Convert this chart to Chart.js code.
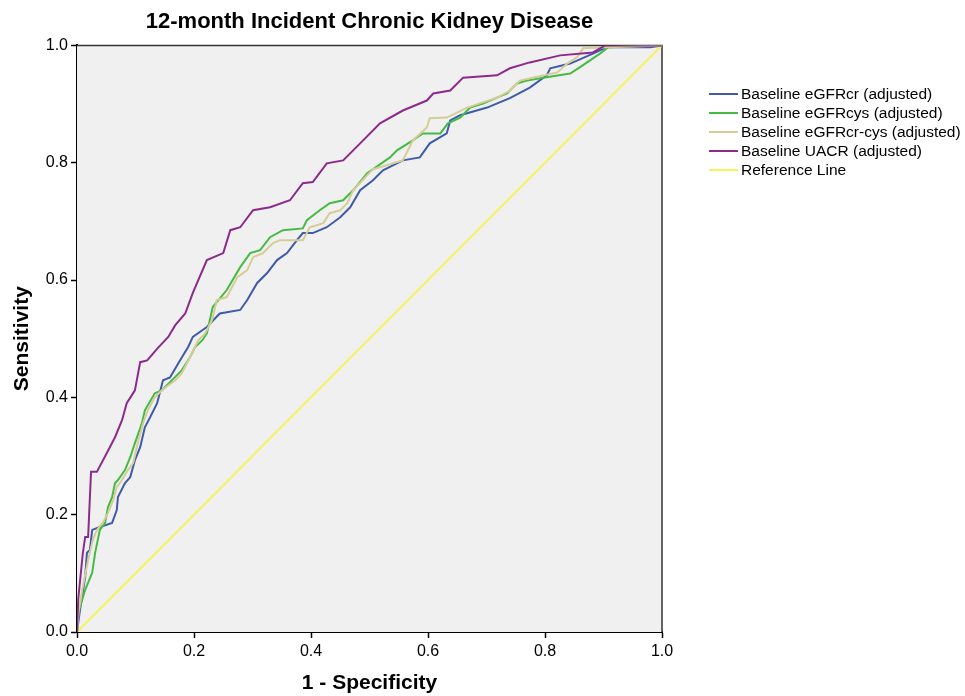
<!DOCTYPE html>
<html>
<head>
<meta charset="utf-8">
<script src="https://cdn.jsdelivr.net/npm/chart.js@4"></script>
<style>
  html, body { margin: 0; padding: 0; background: #fff; }
  #wrap { position: relative; width: 965px; height: 696px; }
  #legend {
    position: absolute; left: 709px; top: 84px;
    font: 15.5px "Liberation Sans", Arial, sans-serif; color: #000;
  }
  #legend div { height: 19px; line-height: 19px; white-space: nowrap; }
  #legend span.ln {
    display: inline-block; width: 29px; height: 2px; margin-right: 3px;
    vertical-align: middle; position: relative; top: -1px;
  }
</style>
</head>
<body>
<div id="wrap">
  <canvas id="chartCanvas"></canvas>
  <div id="legend"></div>
</div>
<script>
// --- data (x = 1 - specificity, y = sensitivity) ---
const seriesNames = [
  "Baseline eGFRcr (adjusted)",
  "Baseline eGFRcys (adjusted)",
  "Baseline eGFRcr-cys (adjusted)",
  "Baseline UACR (adjusted)",
  "Reference Line"
];
const seriesColors = ["#3f5ba9", "#44bb44", "#d6cc98", "#8c2b8c", "#f4f45c"];

const fprCr = [0,0.005,0.014,0.017,0.022,0.026,0.039,0.060,0.068,0.070,0.082,0.091,0.099,0.108,0.116,0.125,0.137,0.147,0.159,0.176,0.190,0.198,0.222,0.244,0.279,0.291,0.308,0.325,0.342,0.359,0.376,0.386,0.403,0.427,0.450,0.467,0.484,0.506,0.523,0.557,0.586,0.603,0.632,0.638,0.655,0.701,0.740,0.774,0.803,0.809,0.843,0.882,0.906,0.980,1];
const tprCr = [0,0.037,0.094,0.135,0.140,0.174,0.179,0.186,0.208,0.230,0.254,0.264,0.293,0.315,0.349,0.366,0.390,0.429,0.434,0.463,0.486,0.503,0.520,0.543,0.549,0.566,0.595,0.612,0.634,0.646,0.668,0.680,0.680,0.690,0.707,0.724,0.753,0.770,0.787,0.804,0.809,0.833,0.850,0.872,0.881,0.894,0.910,0.928,0.949,0.961,0.969,0.986,0.997,0.997,1];

const fprCys = [0,0.002,0.014,0.026,0.031,0.039,0.048,0.053,0.060,0.065,0.070,0.082,0.091,0.099,0.111,0.116,0.133,0.145,0.162,0.179,0.193,0.202,0.214,0.222,0.232,0.256,0.279,0.296,0.313,0.330,0.352,0.386,0.393,0.415,0.432,0.455,0.472,0.496,0.535,0.547,0.574,0.591,0.621,0.634,0.655,0.672,0.694,0.718,0.735,0.752,0.769,0.797,0.843,0.860,0.882,0.894,0.908,1];
const tprCys = [0,0.032,0.072,0.101,0.135,0.174,0.186,0.213,0.230,0.254,0.259,0.276,0.298,0.322,0.356,0.378,0.407,0.412,0.429,0.446,0.468,0.486,0.497,0.509,0.554,0.583,0.622,0.646,0.651,0.673,0.685,0.688,0.702,0.719,0.731,0.736,0.753,0.782,0.809,0.821,0.838,0.850,0.850,0.867,0.877,0.894,0.901,0.911,0.918,0.935,0.940,0.945,0.952,0.963,0.978,0.986,0.997,1];

const fprCrCys = [0,0.003,0.009,0.019,0.027,0.034,0.044,0.053,0.062,0.068,0.077,0.087,0.096,0.104,0.113,0.121,0.133,0.145,0.168,0.179,0.193,0.207,0.219,0.231,0.239,0.256,0.274,0.291,0.301,0.318,0.335,0.347,0.386,0.398,0.421,0.432,0.450,0.462,0.472,0.506,0.557,0.574,0.598,0.603,0.632,0.667,0.718,0.740,0.757,0.779,0.821,0.838,0.855,0.865,0.906,1];
const tprCrCys = [0,0.037,0.072,0.123,0.157,0.174,0.186,0.203,0.225,0.247,0.259,0.276,0.288,0.322,0.356,0.378,0.400,0.412,0.429,0.441,0.468,0.497,0.509,0.532,0.566,0.571,0.605,0.617,0.639,0.646,0.663,0.668,0.668,0.690,0.697,0.714,0.719,0.731,0.753,0.789,0.804,0.838,0.860,0.876,0.877,0.894,0.911,0.923,0.940,0.945,0.954,0.969,0.980,0.995,0.997,1];

const fprUacr = [0,0.002,0.010,0.014,0.019,0.024,0.034,0.051,0.065,0.077,0.085,0.099,0.108,0.120,0.138,0.156,0.168,0.185,0.198,0.222,0.250,0.262,0.279,0.301,0.330,0.364,0.386,0.403,0.427,0.455,0.484,0.518,0.557,0.598,0.609,0.638,0.660,0.718,0.740,0.774,0.826,0.882,0.903,1];
const tprUacr = [0,0.055,0.135,0.162,0.162,0.273,0.273,0.305,0.332,0.361,0.390,0.412,0.460,0.463,0.484,0.503,0.523,0.543,0.578,0.634,0.646,0.685,0.690,0.719,0.724,0.736,0.765,0.767,0.799,0.804,0.833,0.867,0.889,0.906,0.918,0.923,0.945,0.949,0.961,0.971,0.983,0.988,1,1];

const fprRef = [0, 1];
const tprRef = [0, 1];

const axisTicks = [0, 0.2, 0.4, 0.6, 0.8, 1.0];

// --- helpers ---
const toPoints = (xs, ys) => xs.map((x, i) => ({ x, y: ys[i] }));

const curves = [
  toPoints(fprCr, tprCr),
  toPoints(fprCys, tprCys),
  toPoints(fprCrCys, tprCrCys),
  toPoints(fprUacr, tprUacr),
  toPoints(fprRef, tprRef)
];

// HTML legend on the right
const legendEl = document.getElementById("legend");
seriesNames.forEach((name, i) => {
  const row = document.createElement("div");
  row.innerHTML = `<span class="ln" style="background:${seriesColors[i]}"></span>${name}`;
  legendEl.appendChild(row);
});

// grey plot background + thin top/right frame
const plotFrame = {
  id: "plotFrame",
  beforeDatasetsDraw(chart) {
    const { ctx, chartArea: a } = chart;
    ctx.save();
    ctx.fillStyle = "#f0f0f0";
    ctx.fillRect(a.left, a.top, a.right - a.left, a.bottom - a.top);
    ctx.strokeStyle = "#333";
    ctx.lineWidth = 1.5;
    ctx.beginPath();
    ctx.moveTo(a.left, a.top);
    ctx.lineTo(a.right, a.top);
    ctx.lineTo(a.right, a.bottom);
    ctx.stroke();
    ctx.restore();
  }
};

Chart.defaults.font.family = '"Liberation Sans", Arial, sans-serif';
Chart.defaults.color = "#000";

const canvas = document.getElementById("chartCanvas");

new Chart(canvas, {
  type: "line",
  data: {
    datasets: curves.map((pts, i) => ({
      label: seriesNames[i],
      data: pts,
      borderColor: seriesColors[i],
      backgroundColor: seriesColors[i],
      borderWidth: 2,
      pointRadius: 0,
      fill: false,
      tension: 0,
      order: i === 4 ? 10 : 4 - i
    }))
  },
  options: {
    responsive: true,
    maintainAspectRatio: false,
    animation: false,
    layout: { padding: { left: 0, right: 303, top: 0, bottom: 0 } },
    plugins: {
      legend: { display: false },
      tooltip: { enabled: false },
      title: {
        display: true,
        fullSize: false,
        text: "12-month Incident Chronic Kidney Disease",
        font: { size: 22, weight: "bold" },
        padding: { top: 9, bottom: 10 }
      }
    },
    scales: {
      x: {
        type: "linear",
        min: 0, max: 1,
        afterBuildTicks: s => { s.ticks = axisTicks.map(v => ({ value: v })); },
        afterFit: s => { s.height = 64; },
        ticks: { font: { size: 16 }, padding: 4, callback: v => v.toFixed(1), maxRotation: 0 },
        grid: { drawOnChartArea: false, drawTicks: true, tickLength: 6, tickColor: "#000", tickWidth: 1.5 },
        border: { display: true, color: "#000", width: 2 },
        title: {
          display: true, text: "1 - Specificity",
          font: { size: 21, weight: "bold" },
          padding: { top: 0, bottom: 0 }
        }
      },
      y: {
        type: "linear",
        min: 0, max: 1,
        afterBuildTicks: s => { s.ticks = axisTicks.map(v => ({ value: v })); },
        afterFit: s => { s.width = 77; },
        ticks: { font: { size: 16 }, padding: 3, callback: v => v.toFixed(1) },
        grid: { drawOnChartArea: false, drawTicks: true, tickLength: 6, tickColor: "#000", tickWidth: 1.5 },
        border: { display: true, color: "#000", width: 2 },
        title: {
          display: true, text: "Sensitivity",
          font: { size: 21, weight: "bold" },
          padding: { top: 10, bottom: 0 }
        }
      }
    }
  },
  plugins: [plotFrame]
});
</script>
</body>
</html>
